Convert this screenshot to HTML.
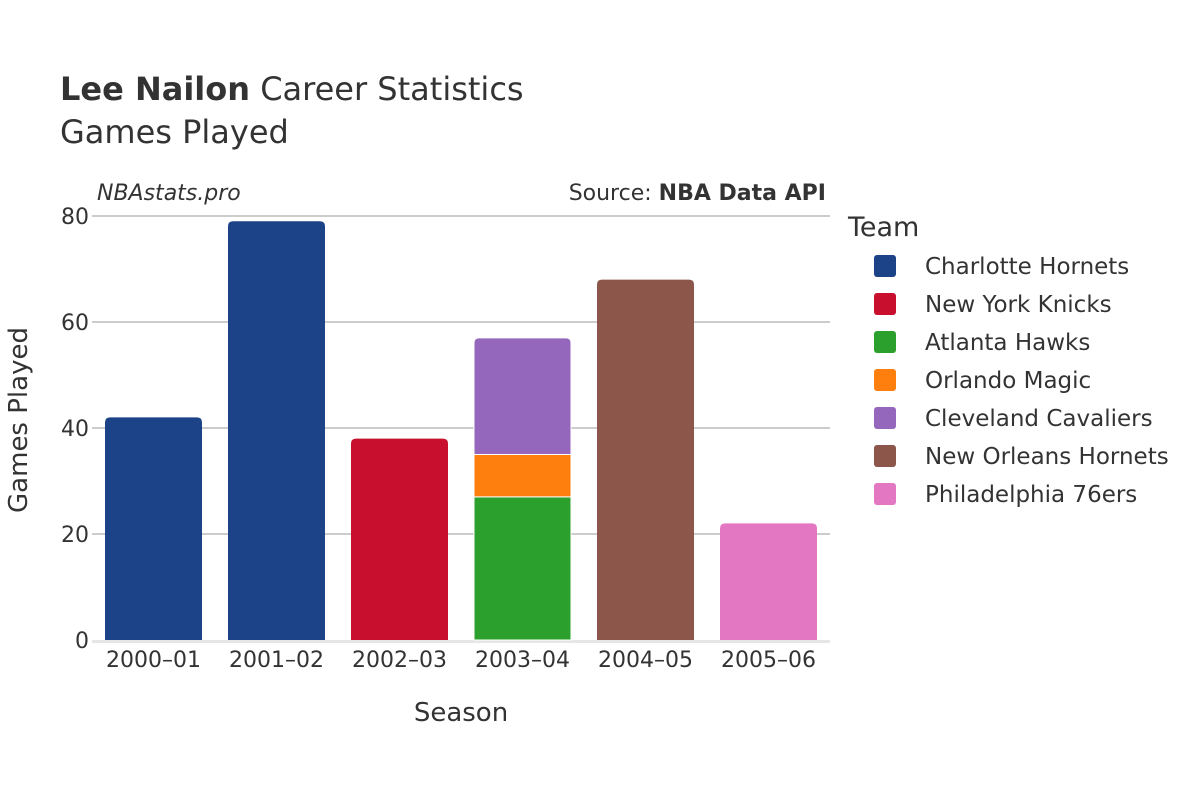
<!DOCTYPE html>
<html><head><meta charset="utf-8"><style>
body{margin:0;background:#fff;width:1200px;height:800px;overflow:hidden}
svg text{font-family:"DejaVu Sans","Liberation Sans",sans-serif;fill:#333}
</style></head><body>
<svg id="chart" width="1200" height="800">
<text x="60" y="100" font-size="32"><tspan font-weight="bold">Lee Nailon</tspan> Career Statistics</text>
<text x="60" y="143" font-size="32">Games Played</text>
<text x="97" y="200" font-size="22" font-style="italic">NBAstats.pro</text>
<text x="826" y="200" font-size="22" text-anchor="end">Source: <tspan font-weight="bold">NBA Data API</tspan></text>
<g id="grid"></g><g id="bars"></g><g id="xt"></g>
<text x="461" y="721" font-size="26" text-anchor="middle">Season</text>
<text transform="translate(27,420) rotate(-90)" font-size="26" text-anchor="middle">Games Played</text>
<text x="848" y="236" font-size="27">Team</text>
<g id="legend"></g>
</svg>
<script>
const seasons=["2000–01","2001–02","2002–03","2003–04","2004–05","2005–06"];
const teams=["Charlotte Hornets","New York Knicks","Atlanta Hawks","Orlando Magic","Cleveland Cavaliers","New Orleans Hornets","Philadelphia 76ers"];
const colors=["#1c4387","#c8102e","#2ca02c","#ff7f0e","#9467bd","#8c564b","#e377c2"];
// games[team][season]
const charlotte=[42,79,0,0,0,0];
const knicks=[0,0,38,0,0,0];
const hawks=[0,0,0,27,0,0];
const magic=[0,0,0,8,0,0];
const cavs=[0,0,0,22,0,0];
const pelicans=[0,0,0,0,68,0];
const sixers=[0,0,0,0,0,22];
const series=[charlotte,knicks,hawks,magic,cavs,pelicans,sixers];
const yTicks=[0,20,40,60,80];
const NS="http://www.w3.org/2000/svg";
const x0=92,x1=830,y0=640,yTop=216,yMax=80;
const bw=(x1-x0)/seasons.length;
const y=v=>y0-(v/yMax)*(y0-yTop);
const xc=i=>x0+bw*(i+0.5);
function mk(tag,attrs,parent){const e=document.createElementNS(NS,tag);for(const k in attrs)e.setAttribute(k,attrs[k]);parent.appendChild(e);return e;}
const grid=document.getElementById('grid');
yTicks.forEach(t=>{
 if(t>0){const l=mk('line',{x1:x0,x2:x1,y1:y(t),y2:y(t),stroke:'#999','stroke-width':1},grid);
 
 }
 const tx=mk('text',{x:x0-3,y:y(t)+8,'font-size':22,'text-anchor':'end'},grid);tx.textContent=t;
 
 
});
const base=mk('line',{x1:x0,x2:x1,y1:y0+1.5,y2:y0+1.5,stroke:'#e6e6e6','stroke-width':3},grid);


const bars=document.getElementById('bars');const bwid=97,r=5;
seasons.forEach((s,i)=>{
 let cum=0;const segs=[];
 series.forEach((ser,ti)=>{if(ser[i]>0){segs.push([ti,cum,cum+ser[i]]);cum+=ser[i];}});
 segs.forEach((sg,k)=>{
  const [ti,a,b]=sg;const L=xc(i)-bwid/2,R=L+bwid,T=y(b),B=y(a);let d;
  if(k===segs.length-1)d=`M${L},${B}V${T+r}Q${L},${T} ${L+r},${T}H${R-r}Q${R},${T} ${R},${T+r}V${B}Z`;
  else d=`M${L},${B}V${T}H${R}V${B}Z`;
  const p=mk('path',{d:d,fill:colors[ti],stroke:'#fff','stroke-width':k<segs.length-1||segs.length>1?1:0},bars);
  
  
 });
 const tx=mk('text',{x:xc(i),y:667,'font-size':22,'text-anchor':'middle'},document.getElementById('xt'));tx.textContent=s;
 
 
});
const lg=document.getElementById('legend');
teams.forEach((t,i)=>{
 const g=mk('g',{},lg);
 
 
 const yy=266+i*38;
 mk('rect',{x:874,y:yy-11,width:22,height:22,rx:3,fill:colors[i]},g);
 const tx=mk('text',{x:925,y:yy+8,'font-size':23},g);tx.textContent=t;
});
</script>
</body></html>
